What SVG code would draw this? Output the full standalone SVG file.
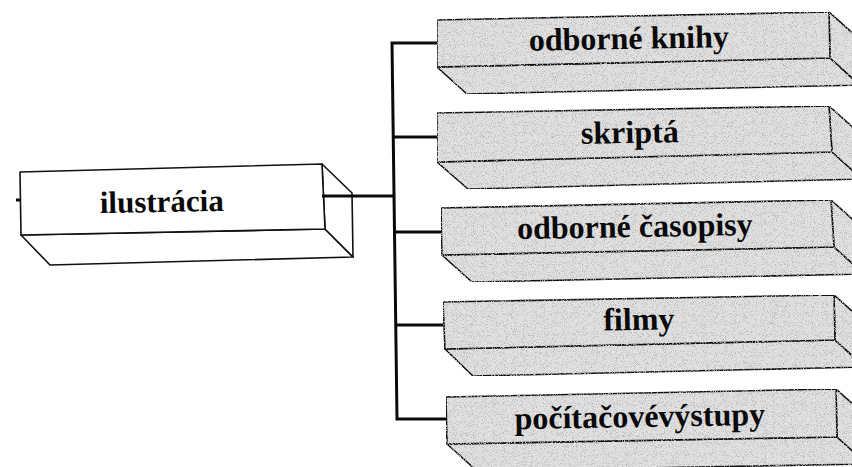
<svg xmlns="http://www.w3.org/2000/svg" width="852" height="467" viewBox="0 0 852 467">
  <style>
    .edge { stroke: #111; stroke-width: 1.6; stroke-linejoin: round; }
    .plain { fill: #ffffff; }
    .shade { fill: #e0e0e0; }
    .wire { fill: none; stroke: #0a0a0a; stroke-width: 3; stroke-linejoin: miter; }
    .label { font-family: "Liberation Serif", "Times New Roman", serif; font-weight: bold; fill: #0a0a0a; text-anchor: middle; }
    .big { font-size: 32px; }
    .main { font-size: 31px; }
  </style>
  <defs>
    <!-- speckled grey print texture for the category blocks -->
    <filter id="grain" x="0" y="0" width="100%" height="100%" filterUnits="objectBoundingBox">
      <feTurbulence type="fractalNoise" baseFrequency="1.1" numOctaves="2" seed="7" result="noise"/>
      <feColorMatrix in="noise" type="matrix" result="specks"
        values="0 0 0 0 0.5
                0 0 0 0 0.5
                0 0 0 0 0.5
                6 0 0 0 -3.2"/>
      <feComposite in="specks" in2="SourceGraphic" operator="in" result="clipped"/>
      <feMerge>
        <feMergeNode in="SourceGraphic"/>
        <feMergeNode in="clipped"/>
      </feMerge>
    </filter>
  </defs>

  <!-- root block -->
  <g id="ilustracia">
    <polygon class="plain edge" points="21,235 325,229 353,257 50,265"/>
    <polygon class="plain edge" points="322,164 352,193 353,257 325,229"/>
    <polygon class="plain edge" points="20,172 322,164 325,229 21,235"/>
    <text class="label main" x="162" y="212" transform="rotate(-1 162 212)">ilustrácia</text>
  </g>

  <!-- category blocks -->
  <g id="odborne-knihy" filter="url(#grain)">
    <polygon class="shade edge" points="437,67 830,58 860,85 467,94"/>
    <polygon class="shade edge" points="829,12 859,39 860,85 830,58"/>
    <polygon class="shade edge" points="437,20 829,12 830,58 437,67"/>
  </g>
  <text class="label big" x="629" y="49" transform="rotate(-1 629 49)">odborné knihy</text>

  <g id="skripta" filter="url(#grain)">
    <polygon class="shade edge" points="437,162 832,152 862,179 468,189"/>
    <polygon class="shade edge" points="829,106 859,133 862,179 832,152"/>
    <polygon class="shade edge" points="437,113 829,106 832,152 437,162"/>
  </g>
  <text class="label big" x="630" y="143" transform="rotate(-1 630 143)">skriptá</text>

  <g id="odborne-casopisy" filter="url(#grain)">
    <polygon class="shade edge" points="442,255 834,247 864,274 472,282"/>
    <polygon class="shade edge" points="831,200 861,227 864,274 834,247"/>
    <polygon class="shade edge" points="441,208 831,200 834,247 442,255"/>
  </g>
  <text class="label big" x="635" y="237" transform="rotate(-1 635 237)">odborné časopisy</text>

  <g id="filmy" filter="url(#grain)">
    <polygon class="shade edge" points="445,349 835,340 865,367 473,376"/>
    <polygon class="shade edge" points="834,295 864,322 865,367 835,340"/>
    <polygon class="shade edge" points="443,302 834,295 835,340 445,349"/>
  </g>
  <text class="label big" x="639" y="330" transform="rotate(-1 639 330)">filmy</text>

  <g id="pocitacove-vystupy" filter="url(#grain)">
    <polygon class="shade edge" points="447,444 837,437 867,464 477,471"/>
    <polygon class="shade edge" points="836,389 866,416 867,464 837,437"/>
    <polygon class="shade edge" points="446,397 836,389 837,437 447,444"/>
  </g>
  <text class="label big" x="640" y="427" transform="rotate(-1 640 427)">počítačovévýstupy</text>

  <!-- connectors, drawn over the root block's side face -->
  <g id="connectors">
    <path class="wire" d="M322,196 H393"/>
    <path class="wire" d="M437,43 H392 L397,419 H447"/>
    <path class="wire" d="M393,137 H437"/>
    <path class="wire" d="M395,232 H441"/>
    <path class="wire" d="M396,325 H443"/>
    <path class="wire" d="M16,200 H20" stroke-width="2.5"/>
  </g>
</svg>
